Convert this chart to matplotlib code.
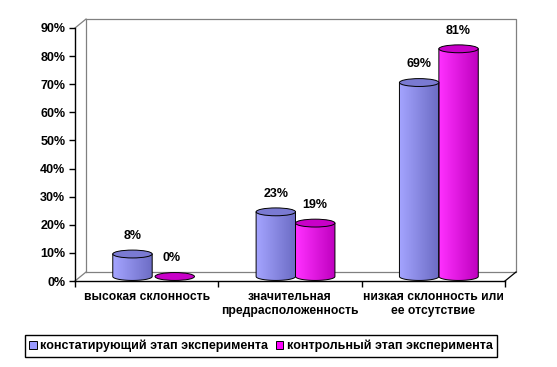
import numpy as np
import matplotlib
matplotlib.use("Agg")
import matplotlib.pyplot as plt
from matplotlib.patches import Polygon, Ellipse, Patch
from matplotlib.colors import LinearSegmentedColormap

plt.rcParams['font.family'] = ['Liberation Sans', 'DejaVu Sans']

categories = ['высокая склонность', 'значительная\nпредрасположенность',
              'низкая склонность или\nее отсутствие']
series_names = ['констатирующий этап эксперимента', 'контрольный этап эксперимента']
stage1 = [8, 23, 69]
stage2 = [0, 19, 81]
yticks = [0, 10, 20, 30, 40, 50, 60, 70, 80, 90]

body_colors = [('#A4A4FF', '#6C6CC4'), ('#FF30FF', '#BE00BE')]
top_colors = ['#7A7AD2', '#C800C8']
legend_colors = ['#9999FF', '#FF00FF']

fig = plt.figure(figsize=(5.57, 3.67), dpi=100)
ax = fig.add_axes([75 / 557, 1 - 281 / 367, 430 / 557, 253 / 367])
ax.set_xlim(0, 3)
ax.set_ylim(0, 90)

# depth offset of the back wall (data units)
dx, dy = 0.077, 3.2
gray = '#808080'
ax.plot([dx, 3 + dx, 3 + dx, dx, dx], [dy, dy, 90 + dy, 90 + dy, dy],
        color=gray, lw=0.9, clip_on=False, zorder=1)
ax.plot([0, dx], [90, 90 + dy], color=gray, lw=0.9, clip_on=False, zorder=1)
ax.plot([0, dx], [0, dy], color=gray, lw=0.9, clip_on=False, zorder=1)
ax.plot([3, 3 + dx], [0, dy], color='black', lw=0.9, clip_on=False, zorder=1)

w = 0.275
eh = 2.8
base = dy / 2


def cylinder(xl, val, cols, topc):
    cx = xl + w / 2
    if val <= 0:
        ax.add_patch(Ellipse((cx + 0.02, base), w, eh, facecolor=topc, edgecolor='black',
                             lw=0.7, zorder=3, clip_on=False))
        return
    t = np.linspace(np.pi, 2 * np.pi, 40)
    bx = cx + w / 2 * np.cos(t)
    by = base + eh / 2 * np.sin(t)
    pts = list(zip(bx, by)) + [(xl + w, base + val), (xl, base + val)]
    poly = Polygon(pts, closed=True, facecolor='none', edgecolor='black', lw=0.7,
                   zorder=4, clip_on=False)
    ax.add_patch(poly)
    cmap = LinearSegmentedColormap.from_list('g', cols)
    grad = np.linspace(0, 1, 64).reshape(1, -1)
    im = ax.imshow(grad, cmap=cmap, extent=[xl, xl + w, base - eh, base + val],
                   aspect='auto', zorder=3, interpolation='bilinear')
    im.set_clip_path(poly)
    ax.add_patch(Ellipse((cx, base + val), w, eh, facecolor=topc, edgecolor='black',
                         lw=0.7, zorder=5, clip_on=False))


for i in range(len(categories)):
    for s, vals in enumerate([stage1, stage2]):
        xl = i + 0.5 + dx / 2 - w + s * w
        cylinder(xl, vals[i], body_colors[s], top_colors[s])
        ax.text(xl + w / 2, vals[i] + base + 6.5, f'{vals[i]}%', ha='center', va='center',
                fontsize=9, fontweight='bold', zorder=6)

ax.set_xlim(0, 3)
ax.set_ylim(0, 90)

for side in ['top', 'right']:
    ax.spines[side].set_visible(False)
for side in ['left', 'bottom']:
    ax.spines[side].set_linewidth(1.0)
    ax.spines[side].set_zorder(6)

ax.set_yticks(yticks)
ax.set_yticklabels([f'{v}%' for v in yticks], fontsize=9, fontweight='bold')
ax.set_xticks([0, 1, 2, 3])
ax.set_xticklabels([])
ax.set_xticks([0.5, 1.5, 2.5], minor=True)
ax.set_xticklabels(categories, minor=True, fontsize=8.7, fontweight='bold')
ax.tick_params(axis='x', which='minor', length=0, pad=7)
ax.tick_params(axis='both', which='major', direction='out', length=4, width=1)
ax.tick_params(axis='y', pad=3)
ax.patch.set_alpha(0)

handles = [Patch(facecolor=c, edgecolor='black', lw=0.7) for c in legend_colors]
leg = fig.legend(handles, series_names, loc='center', bbox_to_anchor=(261 / 557, 1 - 346 / 367),
                 ncol=2, fancybox=False, edgecolor='black', framealpha=1,
                 prop={'size': 9, 'weight': 'bold'}, handlelength=0.6, handleheight=0.6,
                 handletextpad=0.3, columnspacing=0.6, borderpad=0.35, borderaxespad=0)
leg.get_frame().set_linewidth(1.0)

fig.savefig('out.png', dpi=100)
